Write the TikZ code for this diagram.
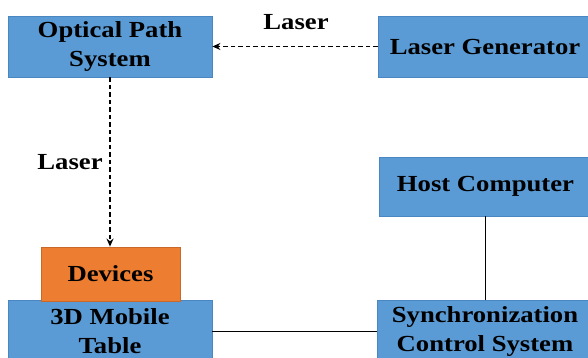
\documentclass[tikz,border=0pt]{standalone}
\usepackage{fontspec}
\setmainfont{Liberation Serif}[FakeStretch=1.16]
\usetikzlibrary{arrows.meta}
\definecolor{boxblue}{HTML}{5B9BD5}
\definecolor{boxblueline}{HTML}{4A86C0}
\definecolor{boxorange}{HTML}{ED7D31}
\definecolor{boxorangeline}{HTML}{C8692A}
\tikzset{
  bluebox/.style={draw=boxblueline, fill=boxblue, line width=0.8pt, align=center, inner sep=0pt,
    font=\fontsize{23}{29}\selectfont\bfseries},
  orangebox/.style={draw=boxorangeline, fill=boxorange, line width=0.8pt, align=center, inner sep=0pt,
    font=\fontsize{23}{29}\selectfont\bfseries},
  dasharrow/.style={line width=1.7pt, dash pattern=on 4.5pt off 3pt, -{Stealth[length=8pt,width=7pt]}},
  link/.style={line width=1.8pt},
  lbl/.style={font=\fontsize{23}{29}\selectfont\bfseries, inner sep=0pt}
}
\begin{document}
\begin{tikzpicture}[x=1pt,y=-1pt]
\useasboundingbox (0,0) rectangle (588,358);
\node[bluebox, minimum width=204pt, minimum height=61pt] (ops) at (110,46.5) {Optical Path\\System};
\node[bluebox, minimum width=214pt, minimum height=61pt] (lg) at (485,46.5) {Laser Generator};
\node[bluebox, minimum width=213pt, minimum height=59pt] (host) at (485.5,186.5) {Host Computer};
\node[bluebox, minimum width=216pt, minimum height=62pt] (sync) at (485,331.5) {Synchronization\\Control System};
\node[bluebox, minimum width=204pt, minimum height=62pt] (tab) at (110,331.5) {3D Mobile\\Table};
\node[orangebox, minimum width=139pt, minimum height=54pt] (dev) at (110.5,274) {Devices};
\draw[dasharrow] (lg.west) -- (ops.east);
\draw[dasharrow] (ops.south) -- (ops.south |- dev.north);
\node[lbl] (l1) at (296,22) {Laser};
\node[lbl] (l2) at (70,162) {Laser};
\draw[link] (host.south) -- (host.south |- sync.north);
\draw[link] (tab.east) -- (tab.east -| sync.west);
\end{tikzpicture}
\end{document}
